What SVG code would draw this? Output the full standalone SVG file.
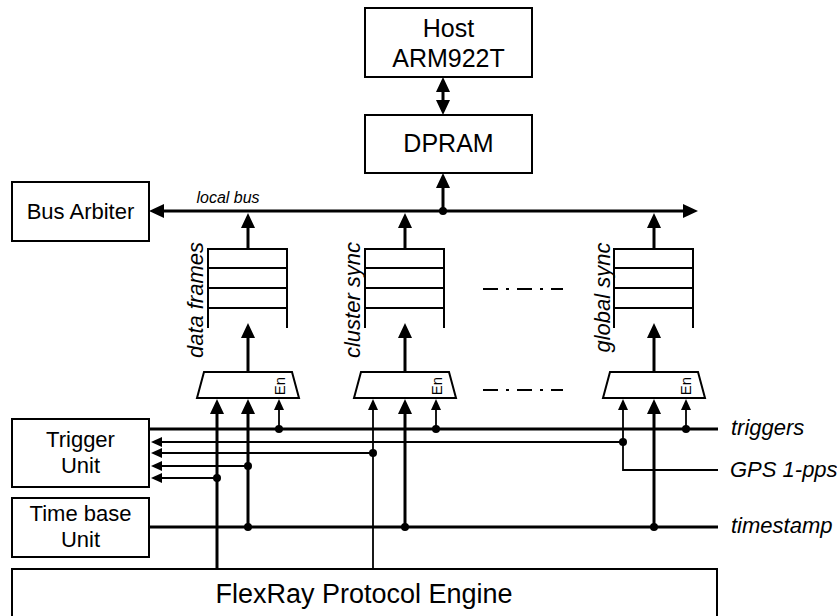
<svg xmlns="http://www.w3.org/2000/svg" width="837" height="616" viewBox="0 0 837 616">
<style>
.box{fill:#fff;stroke:#000;stroke-width:2}
.lbl{font-family:"Liberation Sans",Arial,sans-serif;fill:#000}
.big{font-size:25px;text-anchor:middle}
.mid{font-size:22px;text-anchor:middle}
.it{font-style:italic}
.en{font-size:15px;text-anchor:middle}
.thk{fill:none;stroke:#000;stroke-width:3}
.thn{fill:none;stroke:#000;stroke-width:1.8}
.fifo{fill:none;stroke:#000;stroke-width:2}
.dot{fill:#000}
.dd{fill:none;stroke:#000;stroke-width:2;stroke-dasharray:15 8 3 8}
</style>
<defs>
<marker id="aT" markerUnits="userSpaceOnUse" markerWidth="15" markerHeight="14" refX="11" refY="7" orient="auto-start-reverse"><path d="M0,0 L15,7 L0,14 z" fill="#000"/></marker>
<marker id="aS" markerUnits="userSpaceOnUse" markerWidth="11" markerHeight="10" refX="8" refY="5" orient="auto-start-reverse"><path d="M0,0 L11,5 L0,10 z" fill="#000"/></marker>
</defs>

<g id="host">
<rect class="box" x="365" y="8" width="167" height="69"/>
<text class="lbl big" x="448.5" y="37">Host</text>
<text class="lbl big" x="448.5" y="67">ARM922T</text>
</g>
<g id="dpram">
<rect class="box" x="365" y="115" width="167" height="58"/>
<text class="lbl big" x="448.5" y="152">DPRAM</text>
</g>
<g id="bus-arbiter">
<rect class="box" x="12" y="182" width="137" height="59"/>
<text class="lbl mid" x="80.5" y="219">Bus Arbiter</text>
</g>
<g id="trigger-unit">
<rect class="box" x="12" y="419" width="137" height="68"/>
<text class="lbl mid" x="80.5" y="447">Trigger</text>
<text class="lbl mid" x="80.5" y="473">Unit</text>
</g>
<g id="time-base-unit">
<rect class="box" x="12" y="498" width="137" height="59"/>
<text class="lbl mid" x="80.5" y="521">Time base</text>
<text class="lbl mid" x="80.5" y="547">Unit</text>
</g>
<g id="flexray">
<rect class="box" x="12" y="569" width="705" height="60"/>
<text class="lbl" x="364" y="603" font-size="27" text-anchor="middle">FlexRay Protocol Engine</text>
</g>

<g id="fifo-data-frames">
<path class="fifo" d="M208,328 V249 H287 V328 M208,268 H287 M208,288 H287 M208,308 H287"/>
<text class="lbl mid it" transform="translate(203,300) rotate(-90)">data frames</text>
</g>
<g id="fifo-cluster-sync">
<path class="fifo" d="M365,328 V249 H444 V328 M365,268 H444 M365,288 H444 M365,308 H444"/>
<text class="lbl mid it" transform="translate(359.5,300) rotate(-90)">cluster sync</text>
</g>
<g id="fifo-global-sync">
<path class="fifo" d="M614,328 V249 H693 V328 M614,268 H693 M614,288 H693 M614,308 H693"/>
<text class="lbl mid it" transform="translate(609.5,297.5) rotate(-90)">global sync</text>
</g>

<g id="mux-data-frames">
<path class="box" d="M204,372 H292 L299,398 H197 z"/>
<text class="lbl en" transform="translate(285,386) rotate(-90)">En</text>
</g>
<g id="mux-cluster-sync">
<path class="box" d="M361,372 H449 L456,398 H354 z"/>
<text class="lbl en" transform="translate(442,386) rotate(-90)">En</text>
</g>
<g id="mux-global-sync">
<path class="box" d="M610,372 H698 L705,398 H603 z"/>
<text class="lbl en" transform="translate(691,386) rotate(-90)">En</text>
</g>

<g id="dots-ellipsis">
<line class="dd" x1="483" y1="289" x2="563" y2="289"/>
<line class="dd" x1="483" y1="390" x2="563" y2="390"/>
</g>

<g id="connectors">
<line class="thk" x1="443" y1="81" x2="443" y2="111" marker-start="url(#aT)" marker-end="url(#aT)"/>
<line class="thk" x1="443" y1="211" x2="443" y2="177" marker-end="url(#aT)"/>
<line class="thk" x1="153" y1="211" x2="694" y2="211" marker-start="url(#aT)" marker-end="url(#aT)"/>
<text class="lbl it" x="228" y="203" font-size="16" text-anchor="middle">local bus</text>
<circle class="dot" cx="443" cy="211" r="4"/>

<line class="thk" x1="248" y1="249" x2="248" y2="217" marker-end="url(#aT)"/>
<line class="thk" x1="405" y1="249" x2="405" y2="217" marker-end="url(#aT)"/>
<line class="thk" x1="654" y1="249" x2="654" y2="217" marker-end="url(#aT)"/>

<line class="thk" x1="248" y1="372" x2="248" y2="327" marker-end="url(#aT)"/>
<line class="thk" x1="405" y1="372" x2="405" y2="327" marker-end="url(#aT)"/>
<line class="thk" x1="654" y1="372" x2="654" y2="327" marker-end="url(#aT)"/>

<line class="thk" x1="217" y1="569" x2="217" y2="403" marker-end="url(#aT)"/>
<line class="thk" x1="248" y1="527" x2="248" y2="403" marker-end="url(#aT)"/>
<line class="thn" x1="279" y1="429" x2="279" y2="402" marker-end="url(#aS)"/>
<line class="thn" x1="373" y1="569" x2="373" y2="402" marker-end="url(#aS)"/>
<line class="thk" x1="405" y1="527" x2="405" y2="403" marker-end="url(#aT)"/>
<line class="thn" x1="436" y1="429" x2="436" y2="402" marker-end="url(#aS)"/>
<path class="thn" d="M718,470 H623 V402" marker-end="url(#aS)"/>
<line class="thk" x1="654" y1="527" x2="654" y2="403" marker-end="url(#aT)"/>
<line class="thn" x1="686" y1="429" x2="686" y2="402" marker-end="url(#aS)"/>

<line class="thn" x1="623" y1="442" x2="154" y2="442" marker-end="url(#aS)"/>
<line class="thn" x1="373" y1="453" x2="154" y2="453" marker-end="url(#aS)"/>
<line class="thn" x1="248" y1="466" x2="154" y2="466" marker-end="url(#aS)"/>
<line class="thn" x1="217" y1="478" x2="154" y2="478" marker-end="url(#aS)"/>

<line class="thk" x1="149" y1="429" x2="718" y2="429"/>
<line class="thk" x1="149" y1="527" x2="718" y2="527"/>

<circle class="dot" cx="279" cy="429" r="4"/>
<circle class="dot" cx="436" cy="429" r="4"/>
<circle class="dot" cx="686" cy="429" r="4"/>
<circle class="dot" cx="623" cy="442" r="4"/>
<circle class="dot" cx="373" cy="453" r="4"/>
<circle class="dot" cx="248" cy="466" r="4"/>
<circle class="dot" cx="217" cy="478" r="4"/>
<circle class="dot" cx="248" cy="527" r="4"/>
<circle class="dot" cx="405" cy="527" r="4"/>
<circle class="dot" cx="654" cy="527" r="4"/>

<text class="lbl it" x="731" y="435" font-size="22">triggers</text>
<text class="lbl it" x="730" y="477" font-size="22">GPS 1-pps</text>
<text class="lbl it" x="731" y="533" font-size="22">timestamp</text>
</g>
</svg>
